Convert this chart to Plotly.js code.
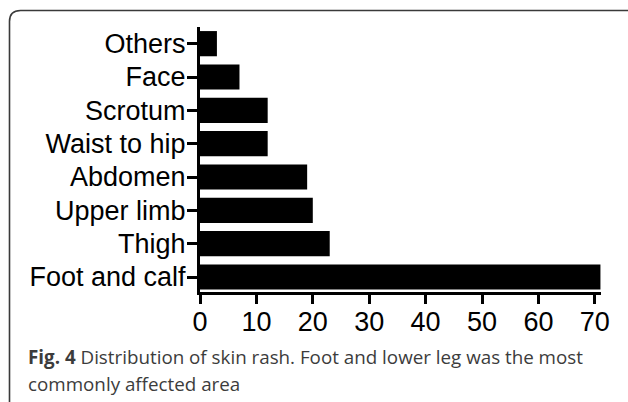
<!DOCTYPE html>
<html>
<head>
<meta charset="utf-8">
<script src="https://cdn.plot.ly/plotly-3.0.1.min.js"></script>
<style>
html,body{margin:0;padding:0;background:#fff;}
#chart{width:628px;height:402px;}
</style>
</head>
<body>
<div id="chart"></div>
<script>
// Data (bottom to top)
const categories = ["Foot and calf", "Thigh", "Upper limb", "Abdomen", "Waist to hip", "Scrotum", "Face", "Others"];
const counts = [71, 23, 20, 19, 12, 12, 7, 3];
const xTicks = [0, 10, 20, 30, 40, 50, 60, 70];
const captionLine1 = "<b>Fig. 4</b> Distribution of skin rash. Foot and lower leg was the most";
const captionLine2 = "commonly affected area";

const W = 628, H = 402;
const M = {l: 200, r: 27, t: 27, b: 110};
const PW = W - M.l - M.r, PH = H - M.t - M.b;
const px = x => (x - M.l) / PW;
const py = y => (H - M.b - y) / PH;

// rounded frame path in paper coordinates
function framePath(x0, y0, x1, y1, r) {
  const pts = [
    ['M', x0 + r, y0], ['L', x1 - r, y0], ['Q', x1, y0, x1, y0 + r],
    ['L', x1, y1 - r], ['Q', x1, y1, x1 - r, y1], ['L', x0 + r, y1],
    ['Q', x0, y1, x0, y1 - r], ['L', x0, y0 + r], ['Q', x0, y0, x0 + r, y0]
  ];
  return pts.map(p => {
    const c = p[0]; const v = p.slice(1); const out = [];
    for (let i = 0; i < v.length; i += 2) out.push(px(v[i]).toFixed(5) + ',' + py(v[i + 1]).toFixed(5));
    return c + out.join(' ');
  }).join(' ') + ' Z';
}

const trace = {
  type: 'bar',
  orientation: 'h',
  x: counts,
  y: categories,
  marker: {color: '#000', line: {width: 0}},
  hoverinfo: 'skip'
};

const tickFont = {family: 'Liberation Sans, Arial, sans-serif', size: 27, color: '#000'};
const capFont = {family: 'Open Sans, sans-serif', size: 18.8, color: '#3c3c3c'};

const layout = {
  width: W, height: H,
  margin: M,
  paper_bgcolor: '#fff', plot_bgcolor: '#fff',
  showlegend: false,
  bargap: 0.244,
  xaxis: {
    range: [0, 71.1], tickvals: xTicks, ticktext: xTicks.map(String),
    showgrid: false, zeroline: false, showline: true, linecolor: '#000', linewidth: 3,
    ticks: 'outside', ticklen: 9, tickwidth: 3, tickcolor: '#000',
    ticklabelstandoff: -5,
    tickfont: tickFont, fixedrange: true
  },
  yaxis: {
    type: 'category', categoryorder: 'array', categoryarray: categories,
    range: [-0.45, 7.5],
    showgrid: false, zeroline: false, showline: true, linecolor: '#000', linewidth: 3,
    ticks: 'outside', ticklen: 10, tickwidth: 3, tickcolor: '#000',
    ticklabelstandoff: -4,
    tickfont: tickFont, fixedrange: true
  },
  shapes: [{
    type: 'path', xref: 'paper', yref: 'paper',
    path: framePath(9.5, 10.5, 645, 420, 11),
    line: {color: '#3a3a3a', width: 1.6}, fillcolor: 'rgba(0,0,0,0)', layer: 'below'
  }],
  annotations: [
    {xref: 'paper', yref: 'paper', x: px(26), y: py(342), xanchor: 'left', yanchor: 'top',
     text: captionLine1, showarrow: false, align: 'left', font: capFont},
    {xref: 'paper', yref: 'paper', x: px(26), y: py(369), xanchor: 'left', yanchor: 'top',
     text: captionLine2, showarrow: false, align: 'left', font: capFont}
  ]
};

Plotly.newPlot('chart', [trace], layout, {displayModeBar: false, staticPlot: true});
</script>
</body>
</html>
